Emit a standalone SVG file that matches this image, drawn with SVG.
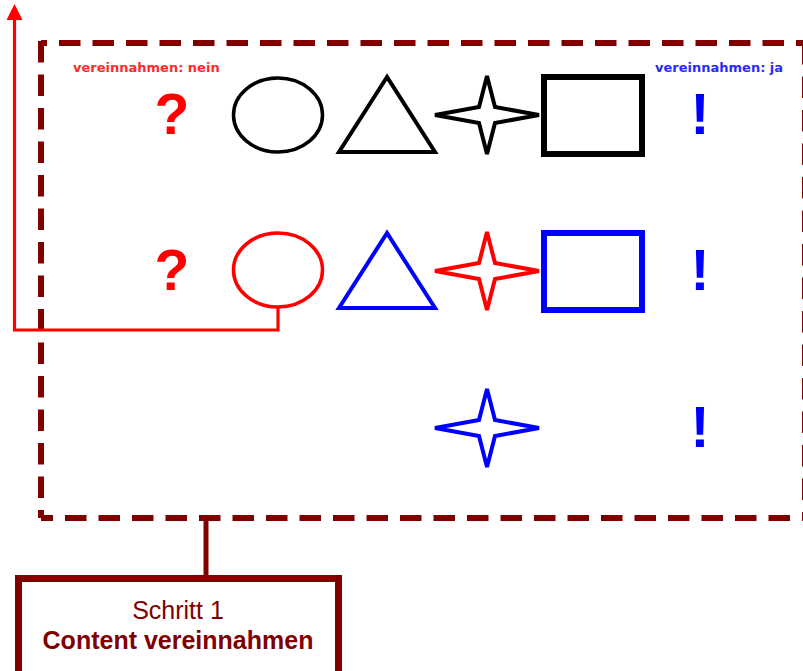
<svg xmlns="http://www.w3.org/2000/svg" width="803" height="671" viewBox="0 0 803 671">
<style>
.dash{fill:none;stroke:#800000;stroke-width:6;stroke-dasharray:21.5 12}
.lbl{font-family:"DejaVu Sans",Verdana,sans-serif;font-weight:bold;font-size:13px}
.big{font-family:"Liberation Sans",Arial,sans-serif;font-weight:bold;font-size:57px;text-anchor:middle}
.bx{font-family:"Liberation Sans",Arial,sans-serif;fill:#800000;text-anchor:middle;font-size:25px}
</style>
<defs>
<path id="star" d="M0,-39 L8,-8 L52,0 L8,8 L0,39 L-8,8 L-52,0 L-8,-8 Z"/>
<marker id="arr" viewBox="0 0 10 10" refX="0" refY="5" markerWidth="5" markerHeight="5" orient="auto">
<path d="M0,0 L10,5 L0,10 Z" fill="#ff0000"/>
</marker>
</defs>
<rect width="803" height="671" fill="#ffffff"/>
<g id="container">
<line class="dash" x1="41" y1="43" x2="808" y2="43" stroke-dashoffset="15.5"/>
<line class="dash" x1="41" y1="41" x2="41" y2="518"/>
<line class="dash" x1="41" y1="518" x2="808" y2="518" stroke-dashoffset="9.5"/>
<line class="dash" x1="805" y1="43" x2="805" y2="518"/>
</g>
<g id="label-nein"><text class="lbl" x="73" y="72" fill="#ff2a2a">vereinnahmen: nein</text></g>
<g id="label-ja"><text class="lbl" x="655" y="72" fill="#2a2aff">vereinnahmen: ja</text></g>
<g id="row1">
<text class="big" x="172" y="134" fill="#ff0000">?</text>
<ellipse cx="278" cy="115" rx="44.5" ry="37" fill="none" stroke="#000" stroke-width="3.5"/>
<path d="M387,77 L339,152 L435,152 Z" fill="none" stroke="#000" stroke-width="4"/>
<use href="#star" x="487" y="115" fill="none" stroke="#000" stroke-width="4"/>
<rect x="544" y="77" width="98" height="77" fill="none" stroke="#000" stroke-width="6"/>
<text class="big" x="700" y="134" fill="#0000ff">!</text>
</g>
<g id="row2">
<text class="big" x="172" y="290" fill="#ff0000">?</text>
<ellipse id="red-ellipse" cx="278" cy="270" rx="44.5" ry="37" fill="none" stroke="#ff0000" stroke-width="3.5"/>
<path d="M387,233 L339,308 L435,308 Z" fill="none" stroke="#0000ff" stroke-width="4"/>
<use href="#star" x="487" y="271" fill="none" stroke="#ff0000" stroke-width="4"/>
<rect x="544" y="233" width="98" height="77" fill="none" stroke="#0000ff" stroke-width="6"/>
<text class="big" x="700" y="290" fill="#0000ff">!</text>
</g>
<g id="row3">
<use href="#star" x="487" y="428" fill="none" stroke="#0000ff" stroke-width="4"/>
<text class="big" x="700" y="447" fill="#0000ff">!</text>
</g>
<g id="step1">
<rect x="18.5" y="578.5" width="320" height="130" fill="#ffffff" stroke="#800000" stroke-width="7"/>
<text class="bx" x="178" y="619">Schritt 1</text>
<text class="bx" x="178" y="649" font-weight="bold" font-size="26.5">Content vereinnahmen</text>
</g>
<g id="connectors">
<polyline points="278,307 278,330 14.5,330 14.5,20" fill="none" stroke="#ff0000" stroke-width="3.2" marker-end="url(#arr)"/>
<line x1="206" y1="518" x2="206" y2="576" stroke="#800000" stroke-width="5"/>
</g>
</svg>
